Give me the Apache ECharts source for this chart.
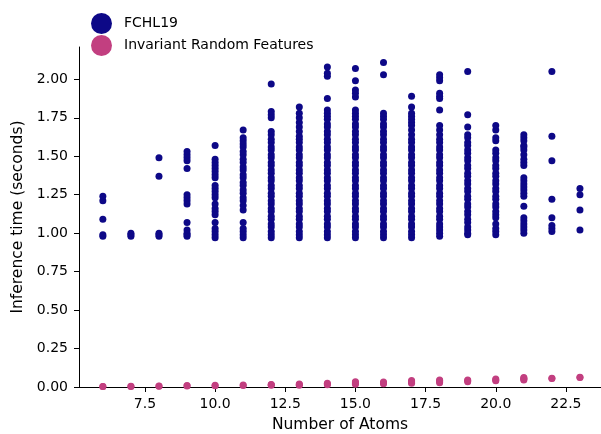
<!DOCTYPE html>
<html>
<head>
<meta charset="utf-8">
<script src="https://cdn.jsdelivr.net/npm/echarts@6/dist/echarts.min.js"></script>
<style>html,body{margin:0;padding:0;background:#fff}#c{width:601px;height:434px}</style>
</head>
<body>
<div id="c"></div>
<script>
const atoms = [6,7,8,9,10,11,12,13,14,15,16,17,18,19,20,21,22,23];
const xTicks = [7.5,10,12.5,15,17.5,20,22.5];
const yTicks = [0,0.25,0.5,0.75,1,1.25,1.5,1.75,2];
const fchlTimes = [
  [0.98,0.99,1.09,1.21,1.24],
  [0.98,0.99,1.0],
  [0.98,0.99,1.0,1.37,1.49],
  [0.98,0.99,1.0,1.02,1.07,1.19,1.21,1.23,1.25,1.42,1.47,1.49,1.51,1.53],
  [0.97,0.99,1.01,1.03,1.07,1.12,1.14,1.16,1.19,1.23,1.25,1.27,1.29,1.31,1.36,1.38,1.40,1.42,1.44,1.46,1.48,1.57],
  [0.97,0.99,1.01,1.03,1.07,1.15,1.18,1.21,1.23,1.26,1.28,1.31,1.33,1.36,1.38,1.41,1.43,1.46,1.48,1.51,1.53,1.56,1.58,1.60,1.62,1.67],
  [0.97,0.99,1.01,1.04,1.06,1.09,1.11,1.14,1.16,1.19,1.21,1.24,1.26,1.29,1.31,1.34,1.36,1.39,1.41,1.44,1.46,1.49,1.51,1.54,1.56,1.59,1.61,1.64,1.66,1.75,1.77,1.79,1.97],
  [0.97,0.99,1.01,1.04,1.06,1.09,1.11,1.14,1.16,1.19,1.21,1.24,1.26,1.29,1.31,1.34,1.36,1.39,1.41,1.44,1.46,1.49,1.51,1.54,1.56,1.59,1.61,1.63,1.66,1.69,1.72,1.75,1.78,1.82],
  [0.97,0.99,1.01,1.04,1.06,1.09,1.11,1.14,1.16,1.19,1.21,1.24,1.26,1.29,1.31,1.34,1.36,1.39,1.41,1.44,1.46,1.49,1.51,1.54,1.56,1.59,1.61,1.64,1.66,1.69,1.71,1.74,1.76,1.78,1.80,1.875,2.02,2.04,2.08],
  [0.97,0.99,1.01,1.04,1.06,1.09,1.11,1.14,1.16,1.19,1.21,1.24,1.26,1.29,1.31,1.34,1.36,1.39,1.41,1.44,1.46,1.49,1.51,1.54,1.56,1.59,1.61,1.64,1.66,1.69,1.71,1.74,1.76,1.78,1.80,1.885,1.91,1.93,1.99,2.07],
  [0.97,0.99,1.01,1.04,1.06,1.09,1.11,1.14,1.16,1.19,1.21,1.24,1.26,1.29,1.31,1.34,1.36,1.39,1.41,1.44,1.46,1.49,1.51,1.54,1.56,1.59,1.61,1.64,1.66,1.69,1.71,1.74,1.76,1.78,2.03,2.11],
  [0.97,0.99,1.01,1.04,1.06,1.09,1.11,1.14,1.16,1.19,1.21,1.24,1.26,1.29,1.31,1.34,1.36,1.39,1.41,1.44,1.46,1.49,1.51,1.54,1.56,1.59,1.61,1.64,1.67,1.70,1.72,1.74,1.76,1.78,1.82,1.89],
  [0.98,1.00,1.02,1.04,1.06,1.09,1.11,1.14,1.16,1.19,1.21,1.24,1.26,1.29,1.31,1.34,1.36,1.39,1.41,1.44,1.46,1.49,1.51,1.54,1.56,1.59,1.61,1.64,1.67,1.70,1.80,1.875,1.89,1.91,1.99,2.01,2.03],
  [0.99,1.00,1.02,1.04,1.07,1.09,1.12,1.14,1.17,1.19,1.22,1.24,1.27,1.29,1.32,1.34,1.37,1.39,1.42,1.44,1.47,1.49,1.52,1.54,1.57,1.59,1.62,1.64,1.69,1.77,2.05],
  [0.99,1.01,1.03,1.06,1.10,1.12,1.14,1.17,1.19,1.22,1.24,1.27,1.29,1.32,1.34,1.37,1.39,1.42,1.44,1.47,1.49,1.52,1.54,1.60,1.62,1.67,1.70],
  [1.00,1.02,1.04,1.06,1.08,1.10,1.175,1.24,1.26,1.28,1.30,1.32,1.34,1.36,1.44,1.46,1.48,1.51,1.54,1.56,1.57,1.60,1.62,1.64],
  [1.01,1.03,1.05,1.10,1.22,1.47,1.63,2.05],
  [1.02,1.15,1.25,1.29]
];
const irfTimes = [
  [0.003,0.004],
  [0.004,0.005],
  [0.005,0.007],
  [0.007,0.009],
  [0.008,0.011],
  [0.010,0.013],
  [0.011,0.014,0.017],
  [0.012,0.016,0.020],
  [0.015,0.019,0.024],
  [0.018,0.024,0.030,0.034],
  [0.021,0.026,0.032],
  [0.024,0.030,0.036,0.042],
  [0.028,0.034,0.040,0.046],
  [0.034,0.040,0.045],
  [0.040,0.046,0.052],
  [0.045,0.051,0.057,0.062],
  [0.055,0.057],
  [0.062,0.064]
];

function toPoints(times){
  const pts = [];
  atoms.forEach((a,i)=>times[i].forEach(v=>pts.push([a,v])));
  return pts;
}

const FONT = '"DejaVu Sans", Verdana, sans-serif';
const TXT = '#000000';
const chart = echarts.init(document.getElementById('c'), null, {renderer:'canvas'});
chart.setOption({
  animation:false,
  backgroundColor:'#ffffff',
  textStyle:{fontFamily:FONT},
  grid:{left:79, right:0, top:47, bottom:47, containLabel:false, outerBoundsMode:'none'},
  legend:{
    orient:'vertical', left:86, top:8, itemWidth:21, itemHeight:21, itemGap:1,
    icon:'circle',
    textStyle:{fontFamily:FONT, fontSize:14, color:TXT, padding:[0,0,0,7]},
    data:['FCHL19','Invariant Random Features']
  },
  xAxis:{
    type:'value', min:5.15, max:23.75,
    name:'Number of Atoms', nameLocation:'middle', nameGap:30,
    nameTextStyle:{fontFamily:FONT, fontSize:15.5, color:TXT},
    axisLine:{show:true, onZero:false, lineStyle:{color:'#000', width:1}},
    axisTick:{show:true, length:5, customValues:xTicks, lineStyle:{color:'#000'}},
    axisLabel:{customValues:xTicks, fontFamily:FONT, fontSize:14, color:TXT, margin:10,
      formatter:v=>Number(v).toFixed(1)},
    splitLine:{show:false}
  },
  yAxis:{
    type:'value', min:0, max:2.21,
    name:'Inference time (seconds)', nameLocation:'middle', nameGap:52,
    nameTextStyle:{fontFamily:FONT, fontSize:15.5, color:TXT},
    axisLine:{show:true, onZero:false, lineStyle:{color:'#000', width:1}},
    axisTick:{show:true, length:5, customValues:yTicks, lineStyle:{color:'#000'}},
    axisLabel:{customValues:yTicks, fontFamily:FONT, fontSize:14, color:TXT, margin:11,
      formatter:v=>Number(v).toFixed(2)},
    splitLine:{show:false}
  },
  series:[
    {name:'FCHL19', type:'scatter', symbol:'circle', symbolSize:7,
     itemStyle:{color:'#0d0887', opacity:1}, data:toPoints(fchlTimes), clip:false},
    {name:'Invariant Random Features', type:'scatter', symbol:'circle', symbolSize:7,
     itemStyle:{color:'#c23f80', opacity:1}, data:toPoints(irfTimes), clip:false}
  ]
});
</script>
</body>
</html>
